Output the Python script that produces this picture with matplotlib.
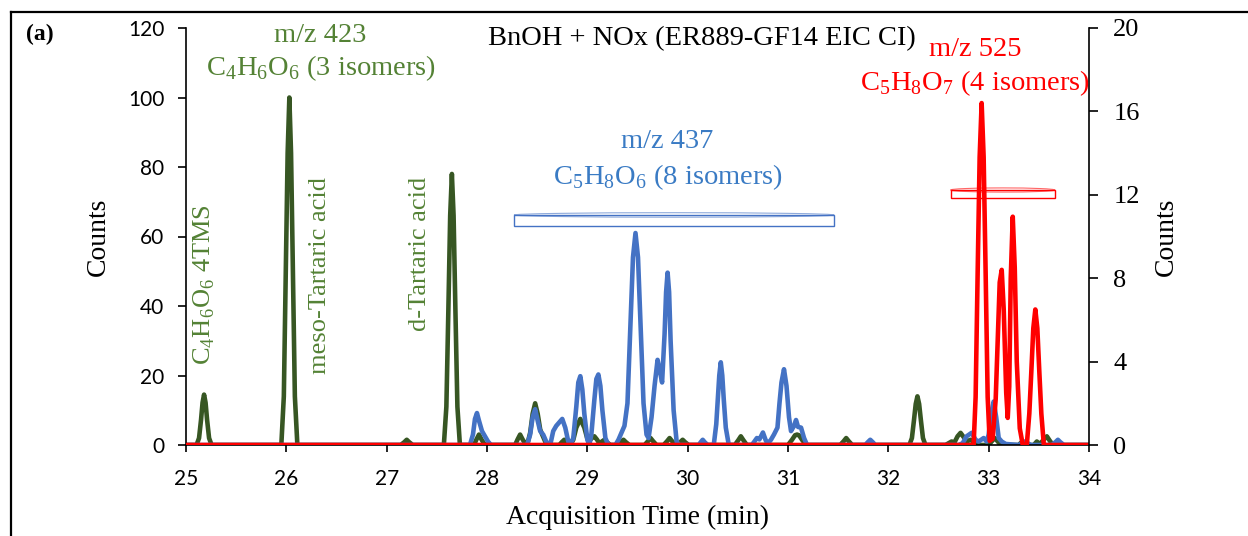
#!/usr/bin/env python3

import matplotlib.pyplot as plt
from matplotlib.patches import Rectangle, Ellipse

# m/z 423 trace (left axis, counts)
green_t = [
    25.00, 25.105, 25.13, 25.15, 25.165, 25.18, 25.195, 25.21, 25.23, 25.255,
    25.95, 25.975, 25.995, 26.013, 26.03, 26.047, 26.065, 26.085, 26.11,
    27.14, 27.175, 27.20, 27.225, 27.26,
    27.57, 27.595, 27.615, 27.633, 27.65, 27.667, 27.685, 27.705, 27.73,
    27.87, 27.895, 27.92, 27.945, 27.98,
    28.28, 28.305, 28.33, 28.355, 28.39,
    28.40, 28.43, 28.455, 28.48, 28.505, 28.53, 28.55, 28.58, 28.61,
    28.72, 28.745, 28.77, 28.795, 28.83, 28.86, 28.89, 28.93, 28.97, 29.00,
    29.02, 29.045, 29.07, 29.095, 29.12, 29.145, 29.17, 29.195, 29.23,
    29.30, 29.335, 29.36, 29.385, 29.42,
    29.57, 29.605, 29.63, 29.655, 29.69,
    29.76, 29.795, 29.82, 29.845, 29.88, 29.925, 29.95, 29.975, 30.01,
    30.47, 30.505, 30.53, 30.555, 30.59,
    31.00, 31.04, 31.07, 31.09, 31.11, 31.14, 31.18,
    31.52, 31.555, 31.58, 31.605, 31.64,
    32.21, 32.235, 32.255, 32.273, 32.29, 32.307, 32.325, 32.345, 32.37,
    32.57, 32.605, 32.63, 32.66, 32.69, 32.72, 32.75, 32.78, 32.82, 32.85, 32.88,
    33.00, 33.035, 33.06, 33.085, 33.12,
    33.30, 33.32, 33.34, 33.36, 33.40, 33.45, 33.48, 33.51, 33.545, 33.58,
    33.605, 33.64, 34.00,
]
green_counts = [
    0, 0, 2.0, 7.3, 12.2, 14.5, 12.2, 7.3, 2.0, 0,
    0, 14, 50, 84, 100, 84, 50, 14, 0,
    0, 0.8, 1.5, 0.8, 0,
    0, 11, 39, 66, 78, 66, 39, 11, 0,
    0, 1.6, 3, 1.6, 0,
    0, 1.6, 3, 1.6, 0,
    0, 3.5, 9, 12, 9, 4.5, 3, 1, 0,
    0, 0.8, 1.5, 0.8, 0, 1.5, 5, 7.5, 5, 1.8,
    1.2, 2, 2.5, 1.6, 0.5, 1.0, 1.5, 0.8, 0,
    0, 0.8, 1.5, 0.8, 0,
    0, 1.1, 2, 1.1, 0,
    0, 1.1, 2, 1.1, 0, 0.8, 1.5, 0.8, 0,
    0, 1.4, 2.5, 1.4, 0,
    0, 1.5, 2.8, 3, 2.8, 1.5, 0,
    0, 1.1, 2, 1.1, 0,
    0, 2, 7, 11.8, 14, 11.8, 7, 2, 0,
    0, 0.6, 1, 0.8, 2.5, 3.5, 2.3, 1, 1.5, 0.8, 0,
    0, 1.2, 2, 1.2, 0,
    0, 0.6, 1, 0.6, 0, 0, 1, 0.3, 1.4, 2.5,
    1.4, 0, 0,
]

# m/z 437 trace (left axis, counts)
blue_t = [
    25.00, 27.83, 27.86, 27.88, 27.90, 27.92, 27.95, 27.98, 28.01, 28.04,
    28.40, 28.43, 28.455, 28.48, 28.505, 28.53, 28.56, 28.59, 28.62,
    28.63, 28.66, 28.69, 28.72, 28.75, 28.78, 28.81, 28.83,
    28.86, 28.89, 28.91, 28.93, 28.95, 28.97, 29.00, 29.02,
    29.04, 29.07, 29.09, 29.11, 29.13, 29.15, 29.18, 29.21,
    29.28, 29.31, 29.34, 29.37, 29.40, 29.43, 29.455, 29.48, 29.505, 29.53,
    29.56, 29.59, 29.61, 29.64, 29.67, 29.70, 29.725, 29.745, 29.77, 29.785,
    29.80, 29.815, 29.83, 29.86, 29.89, 29.91,
    30.11, 30.13, 30.15, 30.17, 30.20,
    30.26, 30.285, 30.30, 30.315, 30.33, 30.345, 30.36, 30.38, 30.41,
    30.64, 30.665, 30.69, 30.715, 30.75, 30.78, 30.80, 30.83, 30.86, 30.895,
    30.915, 30.935, 30.96, 30.985, 31.01, 31.03, 31.06, 31.08, 31.10, 31.13,
    31.16, 31.19,
    31.77, 31.795, 31.82, 31.845, 31.87,
    32.70, 32.74, 32.78, 32.83, 32.87, 32.90, 32.95, 32.98, 33.00, 33.025,
    33.05, 33.075, 33.10, 33.13, 33.17,
    33.30, 33.335, 33.36, 33.385, 33.42,
    33.63, 33.665, 33.69, 33.715, 33.75, 34.00,
]
blue_counts = [
    0, 0, 3, 7.5, 9.2, 7, 4, 2.5, 1, 0,
    0, 3, 8, 10.3, 7, 4, 3, 1, 0,
    0, 4, 5.5, 6.5, 7.5, 5, 1, 0,
    2, 11, 18, 19.8, 16, 9, 1.5, 0,
    3, 13, 19, 20.3, 17, 10, 2, 0,
    0, 1.5, 3.5, 5.5, 12, 35, 54, 61, 54, 35,
    12, 3, 2, 8, 17, 24.5, 21, 18, 32, 44,
    49.6, 44, 30, 10, 1, 0,
    0, 0.8, 1.5, 0.8, 0,
    0, 6, 13, 20, 23.8, 20, 13, 5, 0,
    0, 1, 2, 1.6, 3.6, 1.2, 0.5, 1.5, 3, 5,
    12, 18, 21.8, 17, 8, 4, 5.5, 7.2, 5.2, 5,
    2, 0,
    0, 0.8, 1.5, 0.8, 0,
    0, 0.5, 2.5, 3.5, 1.5, 1, 2, 1, 3, 9,
    12.5, 8, 2, 1, 0.3,
    0, 0.6, 1, 0.6, 0,
    0, 0.8, 1.5, 0.8, 0, 0,
]

# m/z 525 trace (right axis, counts)
red_t = [
    25.00, 32.85, 32.87, 32.89, 32.91, 32.93, 32.95, 32.97, 32.99, 33.01,
    33.04, 33.07, 33.09, 33.11, 33.13, 33.15, 33.175, 33.19, 33.205, 33.22,
    33.24, 33.26, 33.28, 33.31, 33.34,
    33.38, 33.405, 33.425, 33.445, 33.465, 33.485, 33.505, 33.525, 33.55, 34.00,
]
red_counts = [
    0, 0, 2.3, 8.2, 13.8, 16.4, 13.8, 8.2, 2.3, 0.2,
    0.3, 2.2, 5, 7.8, 8.4, 6.5, 2.5, 1.3, 2.8, 8,
    10.95, 8.5, 4, 0.8, 0,
    0, 1.5, 3.5, 5.6, 6.5, 5.6, 3.5, 1.5, 0, 0,
]

left_ticks = [0, 20, 40, 60, 80, 100, 120]
right_ticks = [0, 4, 8, 12, 16, 20]
time_ticks = [25, 26, 27, 28, 29, 30, 31, 32, 33, 34]

GREEN_LINE = '#375623'
GREEN_TEXT = '#548235'
BLUE_LINE = '#4472C4'
BLUE_TEXT = '#3A7BC4'
RED = '#FF0000'
SERIF = ['Liberation Serif', 'DejaVu Serif']

plt.rcParams['mathtext.fontset'] = 'custom'
plt.rcParams['mathtext.rm'] = 'Liberation Serif'

W, H = 1248, 536


def fx(px):
    return px / W


def fy(py):
    return 1 - py / H


fig = plt.figure(figsize=(12.48, 5.36), dpi=100)
ax = fig.add_axes([fx(186), fy(445), fx(1089) - fx(186), fy(28) - fy(445)])
ax2 = ax.twinx()

ax.plot(green_t, green_counts, color=GREEN_LINE, lw=3.3, solid_joinstyle='round')
ax.plot(blue_t, blue_counts, color=BLUE_LINE, lw=3.3, solid_joinstyle='round')
ax2.plot(red_t, red_counts, color=RED, lw=3.3, solid_joinstyle='round')

ax.set_xlim(25, 34)
ax.set_ylim(0, 120)
ax2.set_ylim(0, 20)

ax.set_xticks(time_ticks)
ax.set_yticks(left_ticks)
ax2.set_yticks(right_ticks)

for s in ['top', 'right']:
    ax.spines[s].set_visible(False)
for s in ['top', 'left', 'bottom']:
    ax2.spines[s].set_visible(False)
for sp in [ax.spines['left'], ax.spines['bottom'], ax2.spines['right']]:
    sp.set_linewidth(1.2)

ax.tick_params(axis='y', direction='out', length=5.5, width=1.2, pad=10)
ax.tick_params(axis='x', direction='out', length=5, width=1.2, pad=12)
ax2.tick_params(axis='y', direction='out', length=6.5, width=1.2, pad=11)
for lab in ax.get_xticklabels() + ax.get_yticklabels():
    lab.set_family('Lato')
    lab.set_fontsize(15)
for lab in ax2.get_yticklabels():
    lab.set_family(SERIF)
    lab.set_fontsize(19)

# bracket boxes marking the isomer groups
ax.add_patch(Rectangle((28.27, 63.0), 31.46 - 28.27, 3.2, fill=False,
                       ec=BLUE_LINE, lw=1, zorder=4))
ax.add_patch(Ellipse(((28.27 + 31.46) / 2, 66.2), 31.46 - 28.27, 1.3,
                     fill=False, ec=BLUE_LINE, lw=0.8, alpha=0.6, zorder=4))
ax2.add_patch(Rectangle((32.62, 11.83), 33.66 - 32.62, 0.4, fill=False,
                        ec=RED, lw=1, zorder=4))
ax2.add_patch(Ellipse(((32.62 + 33.66) / 2, 12.23), 33.66 - 32.62, 0.2,
                      fill=False, ec=RED, lw=0.8, alpha=0.6, zorder=4))

# outer frame (cut off at right and bottom)
fig.add_artist(plt.Line2D([fx(11), 1], [fy(12), fy(12)], color='black', lw=1.6))
fig.add_artist(plt.Line2D([fx(11), fx(11)], [fy(12), 0], color='black', lw=1.6))

fig.text(fx(40), fy(34), '(a)', family=SERIF, weight='bold', fontsize=17,
         ha='center', va='center')
fig.text(fx(702), fy(39), 'BnOH + NOx (ER889-GF14 EIC CI)', family=SERIF,
         fontsize=20.5, ha='center', va='center')

fig.text(fx(98), fy(237), 'Counts', family=SERIF, fontsize=20, rotation=90,
         ha='center', va='center')
fig.text(fx(1166), fy(237), 'Counts', family=SERIF, fontsize=20, rotation=90,
         ha='center', va='center')
fig.text(fx(637), fy(517), 'Acquisition Time (min)', family=SERIF, fontsize=20,
         ha='center', va='center')

fig.text(fx(320), fy(35), 'm/z 423', family=SERIF, fontsize=20.5,
         color=GREEN_TEXT, ha='center', va='center')
fig.text(fx(321), fy(68), r'C$_\mathregular{4}$H$_\mathregular{6}$O$_\mathregular{6}$ (3 isomers)',
         family=SERIF, fontsize=20.5, color=GREEN_TEXT, ha='center', va='center')
fig.text(fx(204), fy(285), r'C$_\mathregular{4}$H$_\mathregular{6}$O$_\mathregular{6}$ 4TMS',
         family=SERIF, fontsize=19, color=GREEN_TEXT, rotation=90,
         ha='center', va='center')
fig.text(fx(320), fy(276), 'meso-Tartaric acid', family=SERIF, fontsize=19,
         color=GREEN_TEXT, rotation=90, ha='center', va='center')
fig.text(fx(420), fy(254), 'd-Tartaric acid', family=SERIF, fontsize=19,
         color=GREEN_TEXT, rotation=90, ha='center', va='center')

fig.text(fx(667), fy(142), 'm/z 437', family=SERIF, fontsize=20.5,
         color=BLUE_TEXT, ha='center', va='center')
fig.text(fx(668), fy(177), r'C$_\mathregular{5}$H$_\mathregular{8}$O$_\mathregular{6}$ (8 isomers)',
         family=SERIF, fontsize=20.5, color=BLUE_TEXT, ha='center', va='center')

fig.text(fx(975), fy(50), 'm/z 525', family=SERIF, fontsize=20.5,
         color=RED, ha='center', va='center')
fig.text(fx(975), fy(83), r'C$_\mathregular{5}$H$_\mathregular{8}$O$_\mathregular{7}$ (4 isomers)',
         family=SERIF, fontsize=20.5, color=RED, ha='center', va='center')

fig.savefig('out.png', dpi=100)
